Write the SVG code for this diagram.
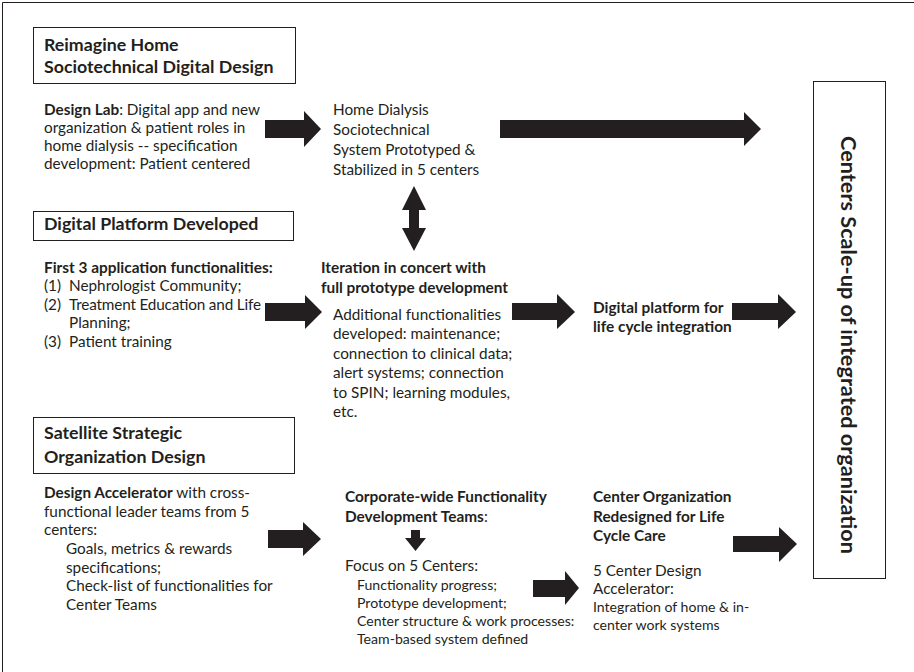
<svg xmlns="http://www.w3.org/2000/svg" width="914" height="672" viewBox="0 0 914 672">
<style>
text{font-family:Lato,"Liberation Sans",sans-serif;fill:#231f20}
.h{font-size:17.8px;font-weight:bold}
.b{font-size:15.3px}
.bb{font-size:15.4px;font-weight:bold}
.s{font-size:14.1px}
.box{fill:#fff;stroke:#231f20;stroke-width:1}
.arr{fill:#231f20}
</style>
<rect width="914" height="672" fill="#fff"/>
<path d="M2.5,672 V2.5 H914" fill="none" stroke="#231f20" stroke-width="1"/>

<g id="reimagine">
<rect class="box" x="33.5" y="27.5" width="262" height="56"/>
<text class="h" x="44" y="51">Reimagine Home</text>
<text class="h" x="44" y="73">Sociotechnical Digital Design</text>
</g>
<g id="design-lab">
<text class="b" x="44" y="115"><tspan font-weight="bold">Design Lab</tspan>: Digital app and new</text>
<text class="b" x="44" y="133">organization &amp; patient roles in</text>
<text class="b" x="44" y="151">home dialysis -- specification</text>
<text class="b" x="44" y="169">development: Patient centered</text>
</g>
<g id="home-dialysis">
<text class="b" x="333" y="115">Home Dialysis</text>
<text class="b" x="333" y="135">Sociotechnical</text>
<text class="b" x="333" y="155">System Prototyped &amp;</text>
<text class="b" x="333" y="175">Stabilized in 5 centers</text>
</g>
<g id="digital-platform">
<rect class="box" x="33.5" y="211.5" width="260" height="29"/>
<text class="h" x="44" y="230">Digital Platform Developed</text>
</g>
<g id="first-3">
<text class="bb" x="44" y="273">First 3 application functionalities:</text>
<text class="b" x="44" y="291">(1)</text><text class="b" x="69" y="291">Nephrologist Community;</text>
<text class="b" x="44" y="310">(2)</text><text class="b" x="69" y="310" textLength="192" lengthAdjust="spacing">Treatment Education and Life</text>
<text class="b" x="69" y="328">Planning;</text>
<text class="b" x="44" y="347">(3)</text><text class="b" x="69" y="347">Patient training</text>
</g>
<g id="iteration">
<text class="bb" x="321" y="273">Iteration in concert with</text>
<text class="bb" x="321" y="293">full prototype development</text>
<text class="b" x="333" y="320">Additional functionalities</text>
<text class="b" x="333" y="339">developed: maintenance;</text>
<text class="b" x="333" y="359">connection to clinical data;</text>
<text class="b" x="333" y="378">alert systems; connection</text>
<text class="b" x="333" y="398">to SPIN; learning modules,</text>
<text class="b" x="333" y="417">etc.</text>
</g>
<g id="digital-platform-lifecycle">
<text class="bb" x="593" y="313">Digital platform for</text>
<text class="bb" x="593" y="332">life cycle integration</text>
</g>
<g id="satellite">
<rect class="box" x="33.5" y="417.5" width="261" height="56"/>
<text class="h" x="44" y="439">Satellite Strategic</text>
<text class="h" x="44" y="463">Organization Design</text>
</g>
<g id="design-accelerator">
<text class="b" x="44" y="498"><tspan font-weight="bold">Design Accelerator</tspan> with cross-</text>
<text class="b" x="44" y="517">functional leader teams from 5</text>
<text class="b" x="44" y="535">centers:</text>
<text class="b" x="66" y="554">Goals, metrics &amp; rewards</text>
<text class="b" x="66" y="573">specifications;</text>
<text class="b" x="66" y="591">Check-list of functionalities for</text>
<text class="b" x="66" y="610">Center Teams</text>
</g>
<g id="corporate">
<text class="bb" x="345" y="502">Corporate-wide Functionality</text>
<text class="bb" x="345" y="522">Development Teams<tspan font-weight="normal">:</tspan></text>
</g>
<g id="focus">
<text class="b" x="345" y="571">Focus on 5 Centers:</text>
<text class="s" x="357" y="590">Functionality progress;</text>
<text class="s" x="357" y="608">Prototype development;</text>
<text class="s" x="357" y="626">Center structure &amp; work processes:</text>
<text class="s" x="357" y="644">Team-based system defined</text>
</g>
<g id="center-org">
<text class="bb" x="593" y="502">Center Organization</text>
<text class="bb" x="593" y="522">Redesigned for Life</text>
<text class="bb" x="593" y="541">Cycle Care</text>
<text class="b" x="593" y="576">5 Center Design</text>
<text class="b" x="593" y="594">Accelerator:</text>
<text class="s" x="593" y="612">Integration of home &amp; in-</text>
<text class="s" x="593" y="630">center work systems</text>
</g>
<g id="scale-up">
<rect class="box" x="813.5" y="81.5" width="72" height="497"/>
<text transform="translate(841,345) rotate(90)" text-anchor="middle" style="font-size:21.7px;font-weight:bold">Centers Scale-up of integrated organization</text>
</g>

<g id="connectors" class="arr">
<path d="M265,120 H304 V111 L321,129 L304,147 V138 H265 Z"/>
<path d="M500,120 H744 V112 L761,129 L744,146 V138 H500 Z"/>
<path d="M414,186 L426,210 H419 V228 H426 L414,251 L402,228 H409 V210 H402 Z"/>
<path d="M265,303 H305 V295 L322,312 L305,329 V321 H265 Z"/>
<path d="M512,303 H557 V294 L575,312 L557,329 V320 H512 Z"/>
<path d="M732,303 H778 V294 L796,312 L778,329 V320 H732 Z"/>
<path d="M268,530 H303 V522 L321,539 L303,556 V548 H268 Z"/>
<path d="M411,530 H420 V538 H426 L415.5,551 L405,538 H411 Z"/>
<path d="M533,580 H565 V571 L579,588 L565,605 V597 H533 Z"/>
<path d="M733,536 H779 V527 L797,544 L779,562 V552 H733 Z"/>
</g>
</svg>
